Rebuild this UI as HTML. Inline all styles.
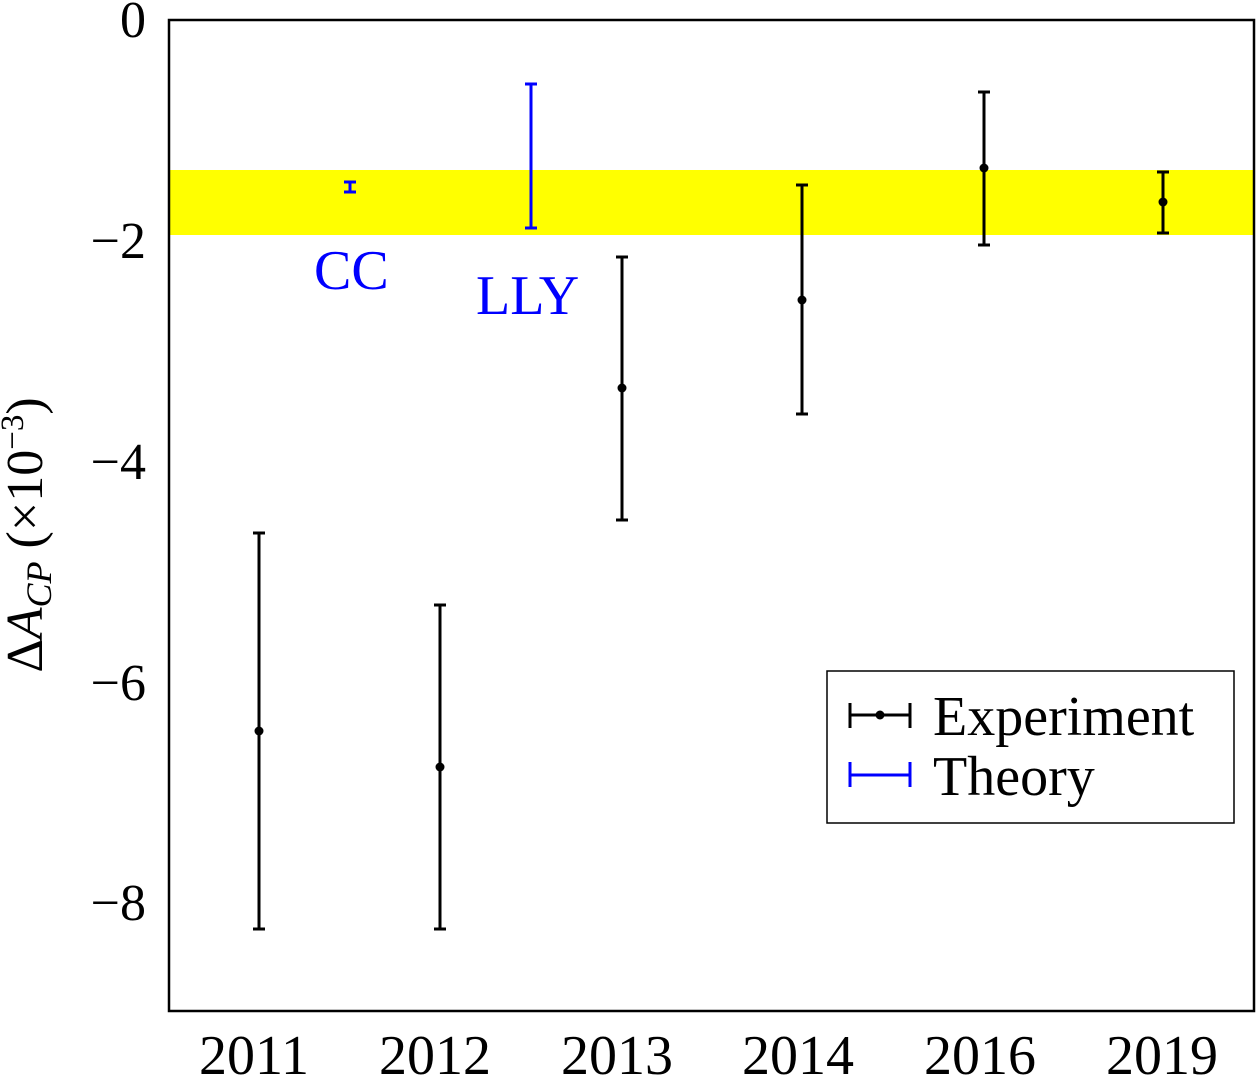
<!DOCTYPE html>
<html><head><style>body{margin:0;background:#fff}</style></head><body>
<svg width="1257" height="1076" xmlns="http://www.w3.org/2000/svg" font-family="Liberation Serif, serif">
<rect x="169" y="170" width="1085" height="65" fill="#ffff00"/>
<rect x="169" y="20" width="1085" height="991" fill="none" stroke="#000" stroke-width="2.5"/>
<g font-size="52" text-anchor="end" fill="#000">
<text x="146" y="37">0</text>
<text x="146" y="258">−2</text>
<text x="146" y="479">−4</text>
<text x="146" y="700">−6</text>
<text x="146" y="920">−8</text>
</g>
<g font-size="56" text-anchor="middle" fill="#000">
<text x="254" y="1074">2011</text>
<text x="435" y="1074">2012</text>
<text x="617" y="1074">2013</text>
<text x="798" y="1074">2014</text>
<text x="980" y="1074">2016</text>
<text x="1162" y="1074">2019</text>
</g>
<text transform="translate(42,535) rotate(-90)" font-size="52" text-anchor="middle">Δ<tspan font-style="italic">A</tspan><tspan font-style="italic" font-size="36" dy="9">CP</tspan><tspan dy="-9"> (×10</tspan><tspan font-size="33" dy="-19">−3</tspan><tspan dy="19">)</tspan></text>
<g stroke="#000" stroke-width="3" fill="none">
<path d="M259 533V929M253 533H265M253 929H265"/>
<path d="M440 605V929M434 605H446M434 929H446"/>
<path d="M622 257V520M616 257H628M616 520H628"/>
<path d="M802 185V414M796 185H808M796 414H808"/>
<path d="M984 92V245M978 92H990M978 245H990"/>
<path d="M1163 172V233M1157 172H1169M1157 233H1169"/>
</g>
<g fill="#000">
<circle cx="259" cy="731" r="4.5"/><circle cx="440" cy="767" r="4.5"/>
<circle cx="622" cy="388" r="4.5"/><circle cx="802" cy="300" r="4.5"/>
<circle cx="984" cy="168" r="4.5"/><circle cx="1163" cy="202" r="4.5"/>
</g>
<g stroke="#0000ff" stroke-width="3" fill="none">
<path d="M350 182V192M344 182H356M344 192H356"/>
<path d="M531 84V228M525 84H537M525 228H537"/>
</g>
<g fill="#0000ff" font-size="56">
<text x="314" y="289">CC</text>
<text x="476" y="314">LLY</text>
</g>
<rect x="827" y="671" width="407" height="152" fill="#fff" stroke="#000" stroke-width="1.5"/>
<path d="M850 703V728M850 715H910M910 703V728" stroke="#000" stroke-width="3" fill="none"/>
<circle cx="880" cy="715" r="4.5"/>
<path d="M850 762V787M850 775H910M910 762V787" stroke="#0000ff" stroke-width="3" fill="none"/>
<text x="933" y="735" font-size="56">Experiment</text>
<text x="933" y="795" font-size="56">Theory</text>
</svg>
</body></html>
